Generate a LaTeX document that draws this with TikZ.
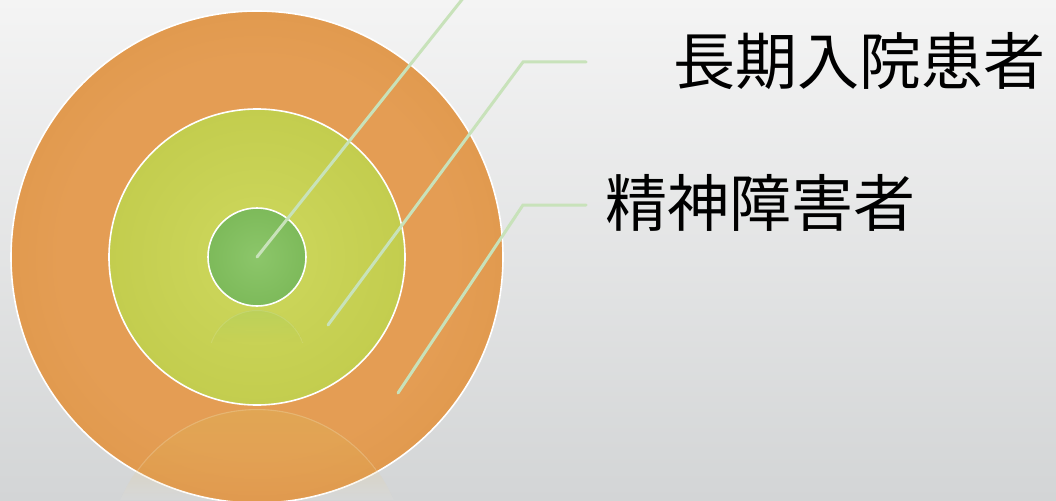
\documentclass[tikz,border=0pt]{standalone}
\usepackage{fontspec}
\newfontfamily\jpfont{Noto Sans CJK JP}
\usetikzlibrary{fadings}
\definecolor{bgtop}{RGB}{244,244,244}
\definecolor{bgbot}{RGB}{211,213,214}
\definecolor{orL}{RGB}{228,157,84}
\definecolor{orD}{RGB}{210,139,52}
\definecolor{ygL}{RGB}{206,216,94}
\definecolor{ygD}{RGB}{184,194,62}
\definecolor{grL}{RGB}{140,198,106}
\definecolor{grD}{RGB}{110,174,74}
\definecolor{leader}{RGB}{200,226,186}
\pgfdeclareradialshading{orball}{\pgfpoint{0bp}{0bp}}{color(0bp)=(orL); color(20bp)=(orL); color(50bp)=(orD)}
\pgfdeclareradialshading{ygball}{\pgfpoint{0bp}{0bp}}{color(0bp)=(ygL); color(50bp)=(ygD)}
\pgfdeclareradialshading{grball}{\pgfpoint{0bp}{0bp}}{color(0bp)=(grL); color(50bp)=(grD)}
\tikzfading[name=fadedown, top color=transparent!40, bottom color=transparent!100]
\tikzset{
  ring/.style={circle, draw=white, line width=1.6pt, inner sep=0pt},
  leaderline/.style={draw=leader, line width=3pt, line cap=round, line join=miter},
  label/.style={font=\jpfont\fontsize{62}{70}\selectfont, inner sep=0pt, anchor=west, text=black}
}
\begin{document}
\begin{tikzpicture}[x=1pt,y=-1pt]
\shade[top color=bgtop, bottom color=bgbot] (0,0) rectangle (1056,500);
\useasboundingbox (0,0) rectangle (1056,500);
\clip (0,0) rectangle (1056,500);
% circles
\node[ring, minimum size=492pt, shading=orball] (outer) at (257,257) {};
% reflection of middle circle
\begin{scope}
  \clip (257,557) circle[radius=148];
  \fill[color={rgb,255:red,222;green,178;blue,84}, path fading=fadedown, opacity=0.75] (100,409) rectangle (420,500);
  \begin{scope}
    \clip (257,257) circle[radius=245];
    \draw[white, opacity=0.18, line width=1.2pt] (257,557) circle[radius=147.5];
  \end{scope}
\end{scope}
\begin{scope}[even odd rule]
  \clip (0,0) rectangle (1056,500) (257,257) circle[radius=246];
  \clip (257,557) circle[radius=148];
  \fill[white, opacity=0.07] (100,409) rectangle (420,500);
\end{scope}
\node[ring, minimum size=296pt, shading=ygball] (middle) at (257,257) {};
% reflection of inner circle
\begin{scope}
  \clip (200,309) rectangle (314,342);
  \clip (257,359) circle[radius=49];
  \fill[color={rgb,255:red,176;green,206;blue,92}, path fading=fadedown, opacity=0.9] (200,310) rectangle (314,342);
  \draw[white, opacity=0.12, line width=1pt] (257,359) circle[radius=48.5];
\end{scope}
\node[ring, minimum size=98pt, shading=grball] (inner) at (257,257) {};
% leader anchors
\coordinate (p1) at (257,257);
\coordinate (e1) at (523,-77);
\coordinate (t1) at (586,-77);
\coordinate (p2) at (328,325);
\coordinate (e2) at (523,62);
\coordinate (t2) at (586,62);
\coordinate (p3) at (398,393);
\coordinate (e3) at (523,205);
\coordinate (t3) at (586,205);
\draw[leaderline] (p1) -- (e1) -- (t1);
\draw[leaderline] (p2) -- (e2) -- (t2);
\draw[leaderline] (p3) -- (e3) -- (t3);
% labels
\node[label] (l2) at (673,61) {長期入院患者};
\node[label] (l3) at (605,203) {精神障害者};
\end{tikzpicture}
\end{document}
